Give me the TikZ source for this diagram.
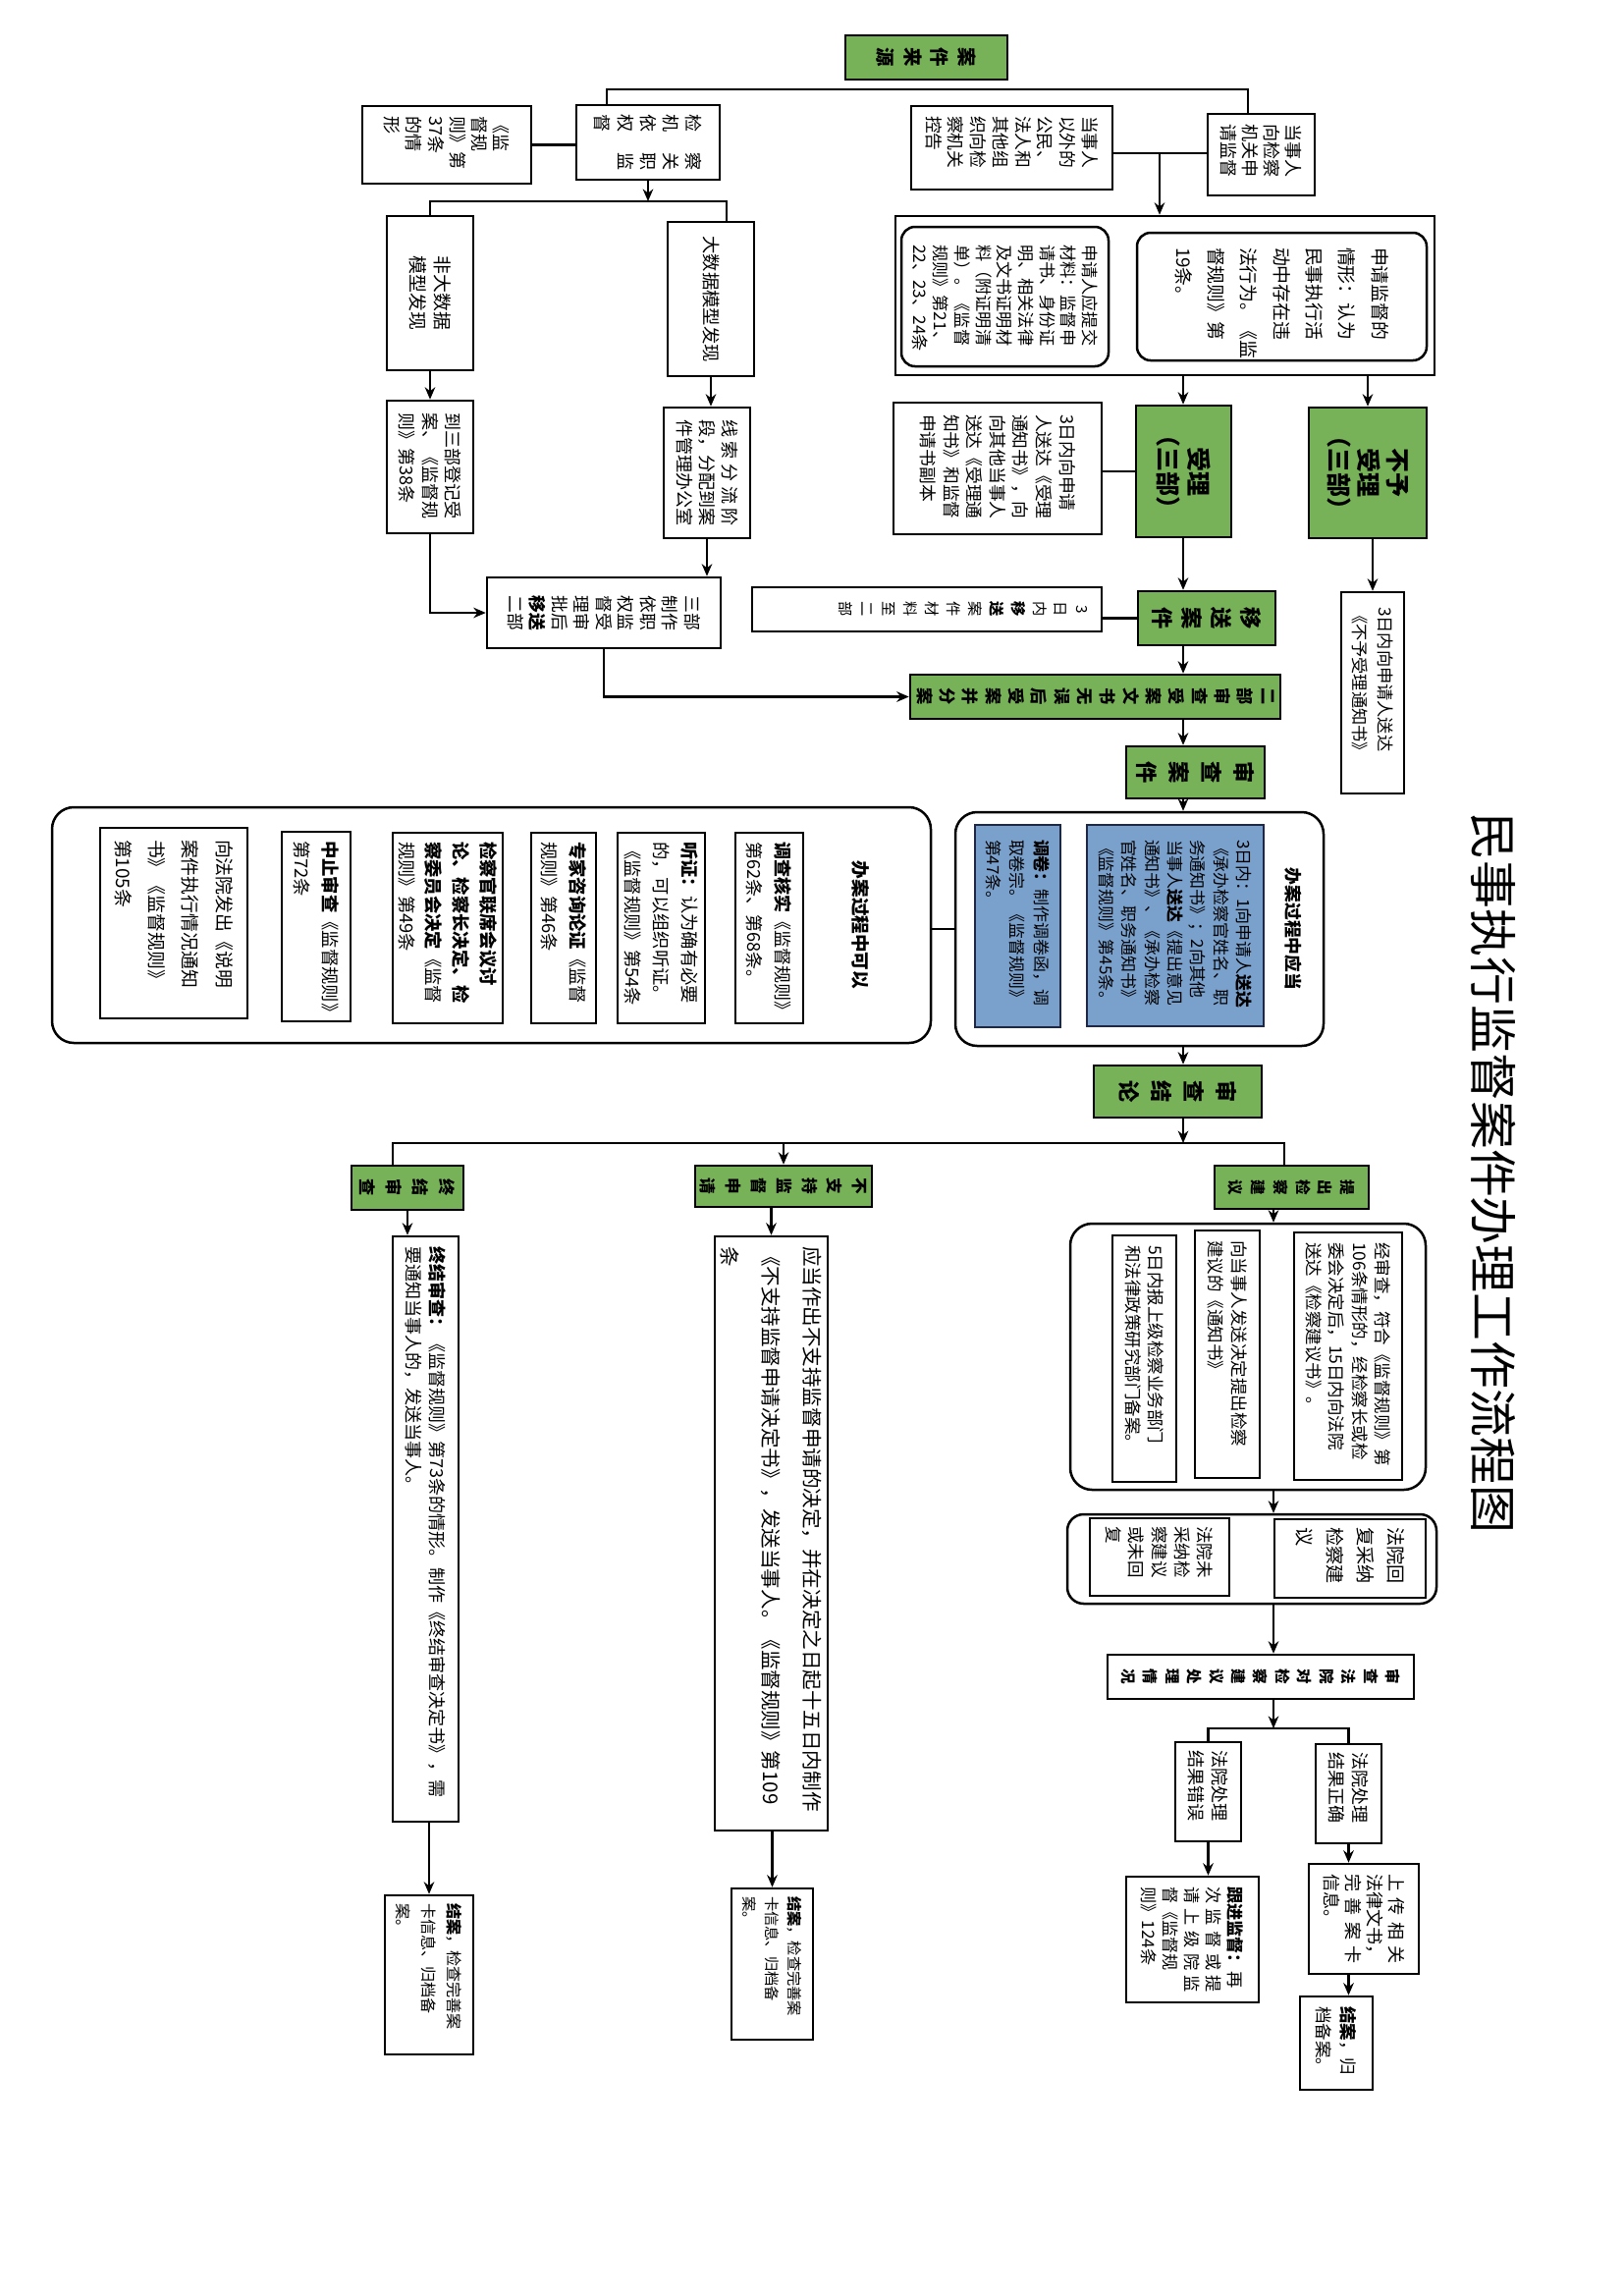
\documentclass[tikz,border=0pt]{standalone}
\usepackage{fontspec}
\setmainfont{Noto Sans CJK SC}
\usepackage{graphicx}
\usetikzlibrary{arrows.meta}
\definecolor{gfill}{RGB}{120,178,88}
\definecolor{bfill}{RGB}{122,160,204}
\definecolor{bdraw}{RGB}{30,40,70}
\newcommand\fz[2]{\fontsize{#1}{#2}\selectfont}
\newcommand\hf{\hfill{}}
\def\splitm#1/#2\relax{\def\mX{#1}\def\mY{#2}}
\newcommand\mkbox[9]{%
  \splitm#7\relax
  \pgfmathsetmacro\myCX{(#3+#5)/2}%
  \pgfmathsetmacro\myCY{(#4+#6)/2}%
  \pgfmathsetlengthmacro\myBW{(#5-#3)*0.36}%
  \pgfmathsetlengthmacro\myBH{(#6-#4)*0.36}%
  \pgfmathsetlengthmacro\myPH{max((#5-#3-2*\mX)*0.36,1)}%
  \pgfmathsetlengthmacro\myPW{max((#6-#4-2*\mY)*0.36,1)}%
  \node[#2,minimum width=\myBW,minimum height=\myBH] (#1) at (\myCX,\myCY)
    {\rotatebox{-90}{\parbox[c][\myPH][#8]{\myPW}{#9}}};%
}
\begin{document}
\begin{tikzpicture}[x=0.36pt,y=-0.36pt,
  box/.style={draw,line width=0.9pt,inner sep=0pt,fill=white},
  gbox/.style={box,fill=gfill},
  bbox/.style={box,fill=bfill,draw=bdraw},
  rbox/.style={box,rounded corners=5pt},
  cont/.style={box,rounded corners=8pt},
  txt/.style={inner sep=0pt},
  ln/.style={line width=0.8pt},
  arr/.style={ln,-{Stealth[length=4.5pt,width=3.8pt]}}]
\fill[white] (0,0) rectangle (1653,2338);
\useasboundingbox (0,0) rectangle (1653,2338);

% ---------- title
\mkbox{title}{txt}{1495}{826}{1547}{1563}{0/0}{c}{\centering\fz{17.6}{20}民事执行监督案件办理工作流程图}

% ---------- sources
\mkbox{src}{gbox}{861}{36}{1026}{81}{8/8}{c}{\centering\bfseries\fz{7}{10}案\\件\\来\\源}
\mkbox{dsr}{box}{1230}{116}{1339}{199}{10/10}{c}{\raggedright\fz{6.5}{8}当事人\\向检察\\机关申\\请监督}
\mkbox{kg}{box}{928}{108}{1133}{193}{8/10}{c}{\raggedright\fz{6.4}{8.2}当事人\\以外的\\公民、\\法人和\\其他组\\织向检\\察机关\\控告}
\mkbox{jc}{box}{587}{107}{733}{183}{8/9}{c}{\fz{6.5}{8.3}检\hf 察\\机\hf 关\\依\hf 职\\权\hf 监\\督}
\mkbox{g37}{box}{369}{108}{541}{187}{10/10}{c}{\raggedright\fz{6.5}{8}《监\\督规\\则》第\\37条\\的情\\形}

% ---------- application box
\mkbox{bigb}{box}{912}{220}{1461}{382}{0/0}{c}{}
\mkbox{qx}{rbox}{1158}{237}{1453}{367}{12/15}{c}{\raggedright\fz{6.8}{12}申请监督的\\情形：认为\\民事执行活\\动中存在违\\法行为。《监\\督规则》第\\19条。}
\mkbox{sq}{rbox}{918}{231}{1129}{373}{8/18}{c}{\raggedright\fz{6.2}{7.8}申请人应提交\\材料：监督申\\请书、身份证\\明、相关法律\\及文书证明材\\料（附证明清\\单）。《监督\\规则》第21、\\22、23、24条}

% ---------- ex officio branch
\mkbox{fdsj}{box}{394}{220}{482}{377}{8/10}{c}{\centering\fz{6.8}{9}非大数据\\模型发现}
\mkbox{dsj}{box}{680}{226}{768}{383}{8/10}{c}{\centering\fz{6.6}{9}大数据模型发现}
\mkbox{dsb}{box}{394}{408}{482}{543}{8/12}{c}{\raggedright\fz{6.5}{8.5}到三部登记受\\案、《监督规\\则》第38条}
\mkbox{xsfl}{box}{676}{415}{764}{548}{8/12}{c}{\raggedright\fz{6.5}{8.3}线\hf 索\hf 分\hf 流\hf 阶\\段，分配到案\\件管理办公室}
\mkbox{sbzz}{box}{496}{588}{734}{660}{8/10}{c}{\centering\fz{6.4}{8.1}三部\\制作\\依职\\权监\\督受\\理审\\批后\\\textbf{移送}\\二部}

% ---------- acceptance
\mkbox{sl}{gbox}{1157}{413}{1254}{547}{6/8}{c}{\centering\bfseries\fz{9}{11.4}受理\\（三部）}
\mkbox{bysl}{gbox}{1333}{415}{1453}{548}{6/8}{c}{\centering\bfseries\fz{9}{10.8}不予\\受理\\（三部）}
\mkbox{slzs}{box}{910}{410}{1122}{544}{10/12}{c}{\raggedright\fz{6.4}{8.5}3日内向申请\\人送达《受理\\通知书》，向\\向其他当事人\\送达《受理通\\知书》和监督\\申请书副本}
\mkbox{bysltz}{box}{1366}{603}{1430}{808}{8/15}{c}{\raggedright\fz{6.2}{9.2}3日内向申请人送达\\《不予受理通知书》}
\mkbox{ysaj}{gbox}{1159}{602}{1299}{657}{6/8}{c}{\centering\bfseries\fz{8}{10.7}移\\送\\案\\件}
\mkbox{ysclz}{box}{766}{598}{1122}{643}{14/10}{t}{\centering\fz{5.5}{7.9}3\\日\\内\\\textbf{移}\\\textbf{送}\\案\\件\\材\\料\\至\\二\\部}
\mkbox{ebsc}{gbox}{927}{687}{1304}{732}{4/6}{c}{\centering\bfseries\fz{6.2}{8.4}二\\部\\审\\查\\受\\案\\文\\书\\无\\误\\后\\受\\案\\并\\分\\案}
\mkbox{scaj}{gbox}{1147}{760}{1288}{813}{6/8}{c}{\centering\bfseries\fz{8}{11.8}审\\查\\案\\件}

% ---------- must do during handling
\mkbox{bagc}{cont}{973}{827}{1348}{1065}{22/10}{t}{\centering\bfseries\fz{6.4}{8}办案过程中应当}
\mkbox{bl1}{bbox}{1107}{840}{1287}{1045}{10/15}{c}{\raggedright\fz{6.1}{8.4}3日内：1向申请人\textbf{送达}\\《承办检察官姓名、职\\务通知书》；2向其他\\当事人\textbf{送达}《提出意见\\通知书》、《承办检察\\官姓名、职务通知书》\\《监督规则》第45条。}
\mkbox{bl2}{bbox}{993}{840}{1080}{1046}{10/15}{c}{\raggedright\fz{6.1}{8.7}\textbf{调卷：}制作调卷函，调\\取卷宗。《监督规则》\\第47条。}

% ---------- may do during handling
\mkbox{bakv}{cont}{53}{822}{948}{1062}{62/10}{t}{\centering\bfseries\fz{6.7}{8}办案过程中可以}
\mkbox{dchs}{box}{749}{848}{818}{1042}{6/9}{c}{\raggedright\fz{6.5}{10.4}\textbf{调查核实}《监督规则》\\第62条、第68条。}
\mkbox{tz}{box}{629}{848}{718}{1042}{5/9}{c}{\raggedright\fz{6.6}{10.4}\textbf{听证：}认为确有必要\\的，可以组织听证。\\《监督规则》第54条}
\mkbox{zjzx}{box}{541}{848}{607}{1042}{5/9}{c}{\raggedright\fz{6.6}{10.4}\textbf{专家咨询论证}《监督\\规则》第46条}
\mkbox{lx}{box}{400}{848}{512}{1042}{5/9}{c}{\raggedright\fz{6.6}{10}\textbf{检察官联席会议讨}\\\textbf{论、检察长决定、检}\\\textbf{察委员会决定}《监督\\规则》第49条}
\mkbox{zzsc}{box}{287}{847}{357}{1040}{5/9}{c}{\raggedright\fz{6.6}{10.4}\textbf{中止审查}《监督规则》\\第72条}
\mkbox{smtz}{box}{102}{843}{252}{1037}{8/12}{c}{\raggedright\fz{6.8}{12.3}向法院发出《说明\\案件执行情况通知\\书》《监督规则》\\第105条}

% ---------- conclusion
\mkbox{scjl}{gbox}{1114}{1085}{1285}{1138}{6/8}{c}{\centering\bfseries\fz{8}{11.9}审\\查\\结\\论}
\mkbox{tcjy}{gbox}{1237}{1187}{1394}{1231}{6/8}{c}{\centering\bfseries\fz{5.6}{8.2}提\\出\\检\\察\\建\\议}
\mkbox{bzc}{gbox}{708}{1187}{888}{1229}{4/8}{c}{\centering\bfseries\fz{6}{9.3}不\\支\\持\\监\\督\\申\\请}
\mkbox{zjsc}{gbox}{358}{1187}{472}{1232}{4/8}{c}{\centering\bfseries\fz{6.2}{9.7}终\\结\\审\\查}

% ---------- procuratorial suggestion
\mkbox{jyA}{cont}{1090}{1246}{1452}{1517}{0/0}{c}{}
\mkbox{jy1}{box}{1318}{1255}{1428}{1507}{10/10}{c}{\raggedright\fz{6.3}{8.4}经审查，符合《监督规则》第\\106条情形的，经检察长或检\\委会决定后，15日内向法院\\送达《检察建议书》。}
\mkbox{jy2}{box}{1217}{1253}{1283}{1505}{8/10}{c}{\raggedright\fz{6.3}{8.4}向当事人发送决定提出检察\\建议的《通知书》}
\mkbox{jy3}{box}{1133}{1258}{1198}{1509}{8/10}{c}{\raggedright\fz{6.3}{8.4}5日内报上级检察业务部门\\和法律政策研究部门备案。}
\mkbox{jyB}{box,rounded corners=6pt}{1087}{1542}{1463}{1633}{0/0}{c}{}
\mkbox{cn}{box}{1298}{1547}{1452}{1627}{8/8}{c}{\raggedright\fz{6.9}{11.2}法院回\\复采纳\\检察建\\议}
\mkbox{wcn}{box}{1110}{1546}{1252}{1625}{8/8}{c}{\raggedright\fz{6.3}{8.4}法院未\\采纳检\\察建议\\或未回\\复}
\mkbox{scfy}{box}{1128}{1685}{1440}{1730}{4/8}{c}{\centering\bfseries\fz{5.6}{8.07}审\\查\\法\\院\\对\\检\\察\\建\\议\\处\\理\\情\\况}
\mkbox{zq}{box}{1340}{1776}{1407}{1877}{6/8}{c}{\raggedright\fz{6.5}{8.4}法院处理\\结果正确}
\mkbox{cw}{box}{1197}{1774}{1264}{1875}{6/8}{c}{\raggedright\fz{6.5}{8.4}法院处理\\结果错误}
\mkbox{sc}{box}{1333}{1898}{1445}{2010}{8/10}{c}{\fz{6.5}{7.9}上\hf 传\hf 相\hf 关\\法律文书，\\完\hf 善\hf 案\hf 卡\\信息。}
\mkbox{ja1}{box}{1324}{2033}{1398}{2128}{6/10}{c}{\raggedright\fz{6.3}{9}\textbf{结案}，归\\档备案。}
\mkbox{gj}{box}{1147}{1911}{1282}{2039}{6/10}{c}{\fz{6.2}{7.9}\textbf{跟进监督：}再\\次\hf 监\hf 督\hf 或\hf 提\\请\hf 上\hf 级\hf 院\hf 监\\督《监督规\\则》124条}

% ---------- not supported / terminated
\mkbox{bzct}{box}{728}{1259}{843}{1864}{6/10}{c}{\raggedright\fz{7.4}{15}应当作出不支持监督申请的决定，并在决定之日起十五日内制作\\《不支持监督申请决定书》，发送当事人。《监督规则》第109\\条}
\mkbox{bzja}{box}{745}{1923}{828}{2077}{6/8}{c}{\raggedright\fz{5.5}{8.3}\textbf{结案}，检查完善案\\卡信息、归档备\\案。}
\mkbox{zjsct}{box}{400}{1259}{467}{1855}{6/10}{c}{\raggedright\fz{6.5}{8.4}\textbf{终结审查：}《监督规则》第73条的情形。制作《终结审查决定书》，需\\要通知当事人的，发送当事人。}
\mkbox{zjja}{box}{392}{1930}{482}{2092}{6/8}{c}{\raggedright\fz{5.8}{9.4}\textbf{结案}，检查完善案\\卡信息、归档备\\案。}

% ---------- connectors
\coordinate (tL) at (618,91);
\coordinate (tR) at (1271,91);
\draw[ln] (jc.north -| tL) -- (tL) -- (tR) -- (dsr.north -| tR);
\coordinate (j1) at (1181,156);
\draw[ln] (kg.east |- j1) -- (dsr.west |- j1);
\draw[arr] (j1) -- (j1 |- bigb.north);
\draw[ln] (g37.east) -- (g37.east -| jc.west);
\coordinate (b1L) at (438,205);
\coordinate (b1R) at (740,205);
\draw[arr] (jc.south) -- (jc.south |- b1L);
\draw[ln] (fdsj.north -| b1L) -- (b1L) -- (b1R) -- (dsj.north -| b1R);
\draw[arr] (fdsj.south) -- (fdsj.south |- dsb.north);
\draw[arr] (dsj.south) -- (dsj.south |- xsfl.north);
\draw[arr] (xsfl.south) -- (xsfl.south |- sbzz.north);
\draw[arr] (dsb.south) |- (sbzz.west);
\draw[arr] (sbzz.south) |- (ebsc.west);
\coordinate (sp) at (1205,0);
\draw[arr] (bigb.south -| sp) -- (sl.north -| sp);
\draw[arr] (bigb.south -| bysl.north) -- (bysl.north);
\draw[arr] (bysl.south -| bysltz.north) -- (bysltz.north);
\draw[ln] (sl.west) -- (sl.west -| slzs.east);
\draw[arr] (sl.south -| sp) -- (ysaj.north -| sp);
\draw[ln] (ysaj.west) -- (ysaj.west -| ysclz.east);
\draw[arr] (ysaj.south -| sp) -- (ebsc.north -| sp);
\draw[arr] (ebsc.south -| sp) -- (scaj.north -| sp);
\draw[arr] (scaj.south -| sp) -- (bagc.north -| sp);
\draw[ln] (bagc.west) -- (bagc.west -| bakv.east);
\draw[arr] (bagc.south -| sp) -- (scjl.north -| sp);
\coordinate (b2) at (1205,1164);
\coordinate (b2L) at (400,1164);
\coordinate (b2R) at (1308,1164);
\draw[arr] (scjl.south -| sp) -- (b2);
\draw[ln] (zjsc.north -| b2L) -- (b2L) -- (b2R) -- (tcjy.north -| b2R);
\draw[arr] (bzc.north |- b2L) -- (bzc.north);
\coordinate (c4) at (1297,0);
\draw[arr] (tcjy.south -| c4) -- (jyA.north -| c4);
\draw[arr] (jyA.south -| c4) -- (jyB.north -| c4);
\draw[arr] (jyB.south -| c4) -- (scfy.north -| c4);
\coordinate (b3) at (1297,1760);
\draw[arr] (scfy.south -| b3) -- (b3);
\draw[ln] (cw.north) |- (b3) -| (zq.north);
\draw[arr] (zq.south) -- (zq.south |- sc.north);
\draw[arr] (zq.south |- sc.south) -- (zq.south |- ja1.north);
\draw[arr] (cw.south) -- (cw.south |- gj.north);
\draw[arr] (bzc.south -| bzct.north) -- (bzct.north);
\draw[arr] (bzct.south -| bzja.north) -- (bzja.north);
\draw[arr] (zjsc.south) -- (zjsc.south |- zjsct.north);
\draw[arr] (zjsct.south -| zjja.north) -- (zjja.north);
\end{tikzpicture}
\end{document}
